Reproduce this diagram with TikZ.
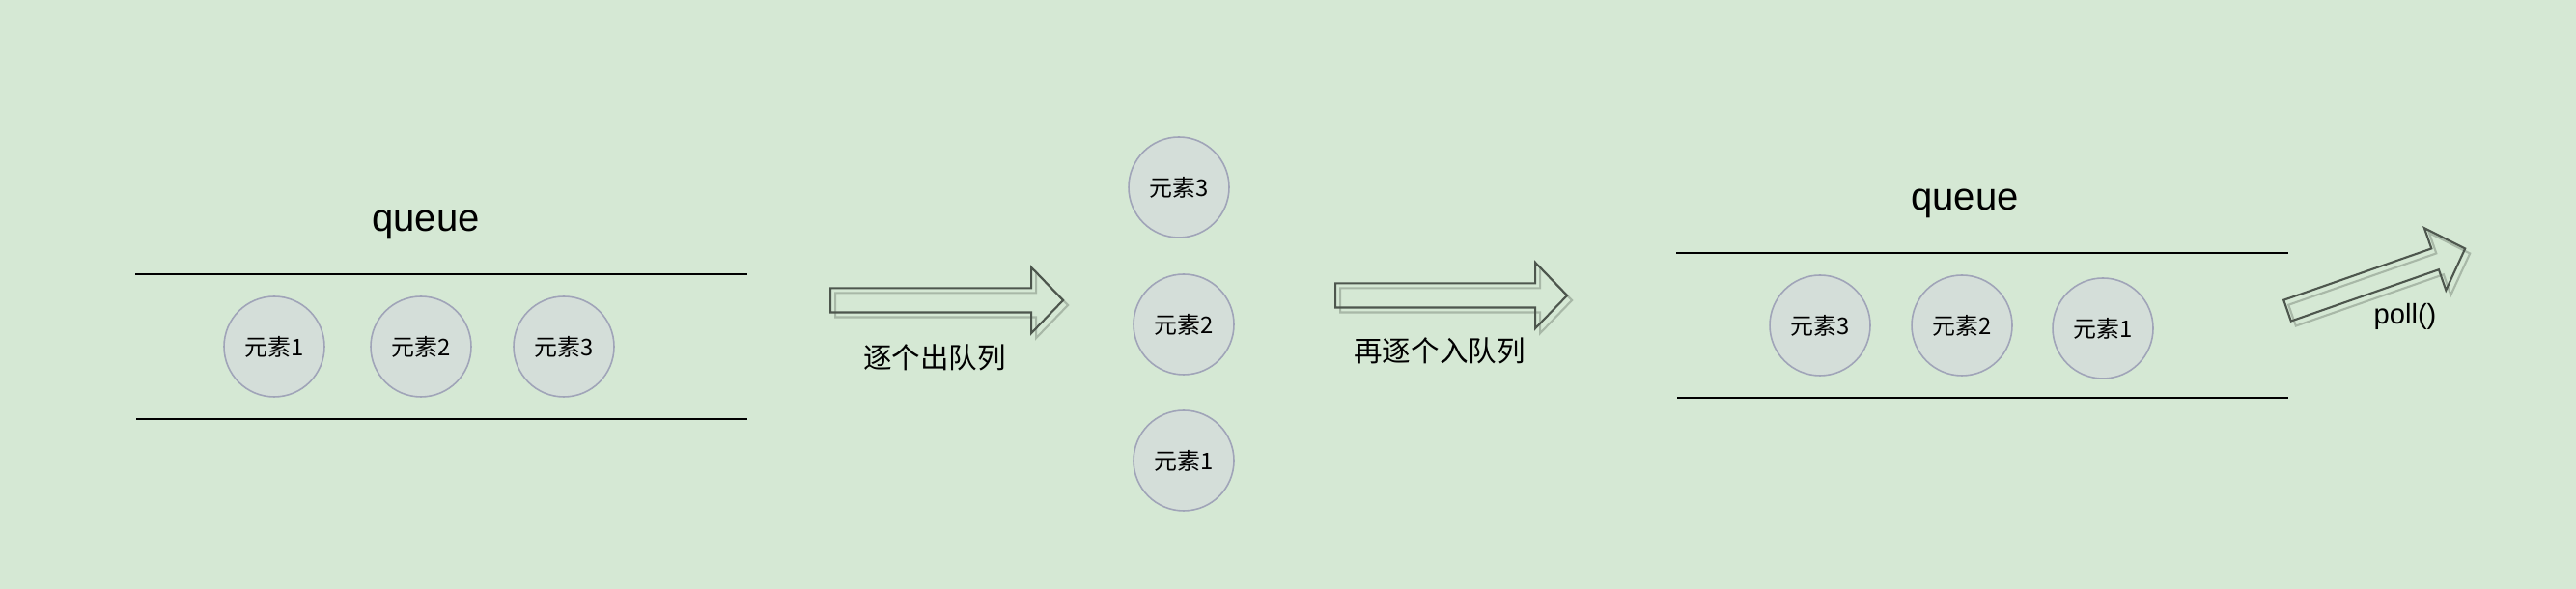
\documentclass[tikz,border=0pt]{standalone}
\usepackage{fontspec}
\setmainfont{Liberation Sans}
\newfontfamily\cjk{Noto Sans CJK SC}
\usepackage{xcolor}
\usetikzlibrary{shapes.arrows, shadows, positioning}

\definecolor{bggreen}{HTML}{D5E8D4}
\definecolor{elemfill}{HTML}{D4DED9}
\definecolor{elemline}{HTML}{A0A4B8}
\definecolor{arrline}{HTML}{4D564D}
\definecolor{arrshadow}{HTML}{A8B8A7}

\begin{document}
\begin{tikzpicture}[
    elem/.style={circle, draw=elemline, fill=elemfill, line width=0.45pt, minimum size=1.04cm, inner sep=0pt, font=\fontsize{6.8}{8}\selectfont\cjk},
    rail/.style={line width=0.6pt},
    qlbl/.style={font=\fontsize{11.4}{13}\selectfont},
    lbl/.style={font=\fontsize{8.4}{10}\selectfont\cjk},
    blockarr/.style={single arrow, draw=arrline, line width=0.6pt, inner xsep=0pt, inner ysep=0.115cm,
        single arrow head extend=0.215cm, single arrow tip angle=92, anchor=tail,
        drop shadow={fill=none, draw=arrshadow, opacity=1, shadow xshift=0.05cm, shadow yshift=-0.05cm}},
]
\useasboundingbox (0,0) rectangle (26.68,6.10);
\fill[bggreen] (0,0) rectangle (26.68,6.10);

% left queue
\node[qlbl] (lq) at (4.41, 3.77) {queue};
\draw[rail] (1.40, 3.26) -- (7.74, 3.26);
\draw[rail] (1.41, 1.76) -- (7.74, 1.76);
\node[elem] (l1) at (2.84, 2.51) {元素1};
\node[elem] (l2) at (4.36, 2.51) {元素2};
\node[elem] (l3) at (5.84, 2.51) {元素3};

% dequeue one by one
\node[blockarr, minimum height=2.41cm] (deq) at (8.59, 2.99) {};
\node[lbl] (deqlbl) at (9.68, 2.40) {逐个出队列};

% elements taken out
\node[elem] (m3) at (12.21, 4.16) {元素3};
\node[elem] (m2) at (12.26, 2.74) {元素2};
\node[elem] (m1) at (12.26, 1.33) {元素1};

% enqueue again
\node[blockarr, minimum height=2.40cm] (enq) at (13.82, 3.04) {};
\node[lbl] (enqlbl) at (14.91, 2.47) {再逐个入队列};

% right queue
\node[qlbl] (rq) at (20.35, 3.99) {queue};
\draw[rail] (17.36, 3.48) -- (23.70, 3.48);
\draw[rail] (17.37, 1.98) -- (23.70, 1.98);
\node[elem] (r3) at (18.85, 2.73) {元素3};
\node[elem] (r2) at (20.32, 2.73) {元素2};
\node[elem] (r1) at (21.78, 2.70) {元素1};

% poll
\node[blockarr, inner ysep=0.105cm, single arrow head extend=0.225cm, minimum height=1.95cm, rotate=19.2] (poll) at (23.68, 2.88) {};
\node[qlbl, font=\fontsize{8.3}{10}\selectfont] (polllbl) at (24.91, 2.82) {poll()};

\end{tikzpicture}
\end{document}
